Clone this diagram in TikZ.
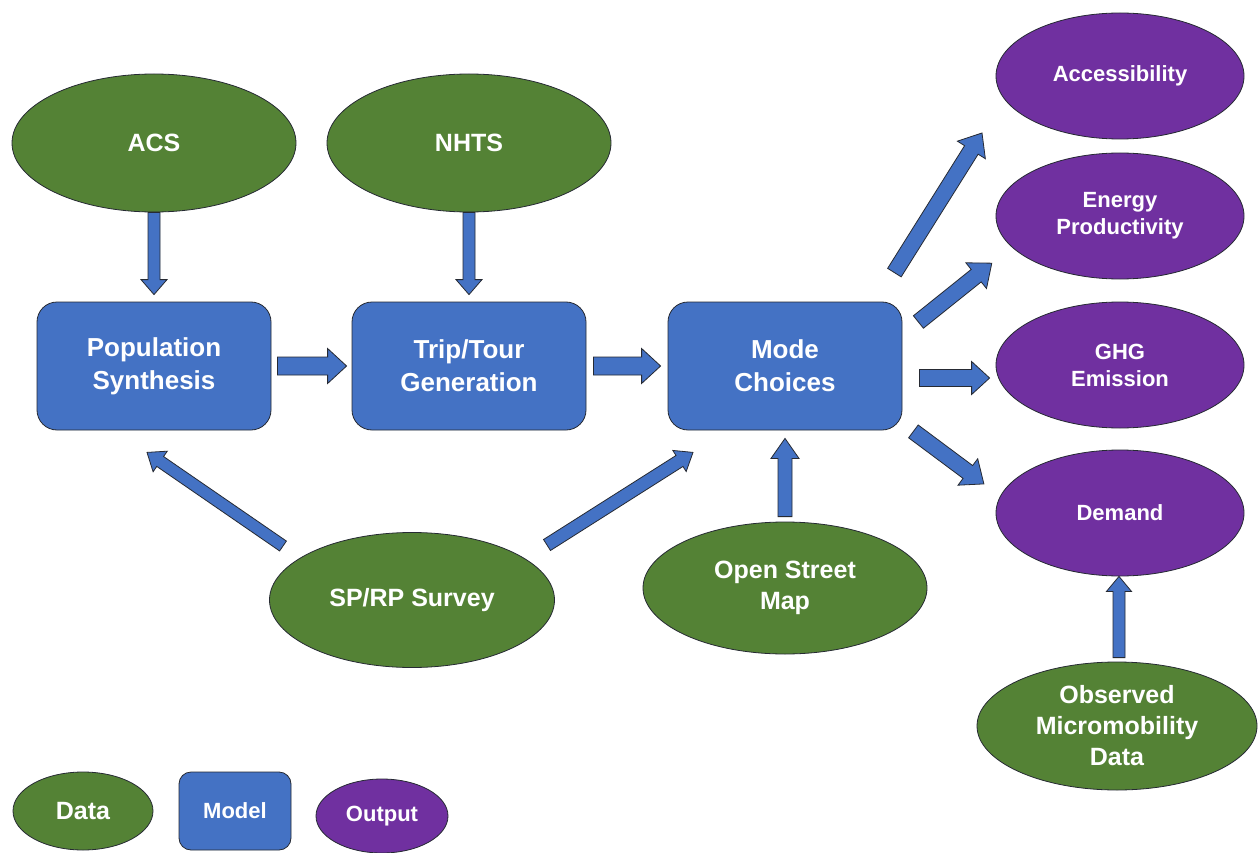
\documentclass[tikz,border=0pt]{standalone}
\usepackage{fontspec}
\setmainfont{Liberation Sans}
\usepackage{tikz}
\usetikzlibrary{shapes.geometric, calc}
\definecolor{datagreen}{HTML}{548235}
\definecolor{modelblue}{HTML}{4472C4}
\definecolor{outpurple}{HTML}{7030A0}
\definecolor{edge}{HTML}{262A33}
\tikzset{
    data/.style={ellipse, draw=edge, fill=datagreen, line width=0.8pt, inner sep=0pt, text=white, align=center,
        minimum width=284pt, minimum height=138pt, font=\bfseries\fontsize{25}{31}\selectfont}, % 数据的样式
    model/.style={rectangle, rounded corners=20pt, draw=edge, fill=modelblue, line width=0.8pt, inner sep=0pt, text=white, align=center,
        minimum width=234pt, minimum height=128pt, font=\bfseries\fontsize{26}{33}\selectfont}, % 模型的样式
    output/.style={ellipse, draw=edge, fill=outpurple, line width=0.8pt, inner sep=0pt, text=white, align=center,
        minimum width=248pt, minimum height=126pt, font=\bfseries\fontsize{22}{27}\selectfont}, % 输出的样式
    ba frame/.style={shift={(\p1)}, rotate=\n1},
    barrow/.style n args={3}{draw=edge, fill=modelblue, line width=0.8pt, to path={
        let \p1=(\tikztostart), \p2=(\tikztotarget),
            \n1={atan2(\y2-\y1,\x2-\x1)}, \n2={veclen(\x2-\x1,\y2-\y1)},
            \n3={\n2-#3pt}, \n4={#1pt/2}, \n5={#2pt/2} in
        ([ba frame]0pt,\n4) -- ([ba frame]\n3,\n4) -- ([ba frame]\n3,\n5) -- ([ba frame]\n2,0pt)
        -- ([ba frame]\n3,-\n5) -- ([ba frame]\n3,-\n4) -- ([ba frame]0pt,-\n4) -- cycle}} % 块状箭头
}

\begin{document}
\begin{tikzpicture}[x=1pt, y=-1pt]
    \def\W{1258} \def\H{853}
    \useasboundingbox[fill=white] (0,0) rectangle (\W,\H);

    \node[data] (acs) at (154,143) {ACS};
    \node[data] (nhts) at (469,143) {NHTS};
    \node[model] (pop) at (154,366) {Population\\Synthesis};
    \node[model] (trip) at (469,366) {Trip/Tour\\Generation};
    \node[model] (mode) at (785,366) {Mode\\Choices};
    \node[data, minimum width=285pt, minimum height=135pt] (sprp) at (412,600) {SP/RP Survey};
    \node[data, minimum height=132pt] (osm) at (785,588) {Open Street\\Map};

    \node[output] (acc) at (1120,76) {Accessibility};
    \node[output] (ener) at (1120,216) {Energy\\Productivity};
    \node[output] (ghg) at (1120,365) {GHG\\Emission};
    \node[output] (dem) at (1120,513) {Demand};
    \node[data, minimum width=280pt, minimum height=128pt] (obs) at (1117,726) {Observed\\Micromobility\\Data};

    \draw[barrow={12}{26}{15}] (acs.south) to ([yshift=7pt]pop.north);
    \draw[barrow={12}{26}{15}] (nhts.south) to ([yshift=7pt]trip.north);
    \draw[barrow={18}{35}{19}] ([xshift=6pt]pop.east) to ([xshift=-5pt]trip.west);
    \draw[barrow={18}{35}{19}] ([xshift=7pt]trip.east) to ([xshift=-7pt]mode.west);
    \draw[barrow={12}{25}{16}] ([shift={(-129,-54)}]sprp.center) to ([shift={(-7,22)}]pop.south);
    \draw[barrow={13}{25}{16}] ([shift={(135,-55)}]sprp.center) to ([shift={(-92,22)}]mode.south);
    \draw[barrow={14}{28}{20}] ([yshift=5pt]osm.north) to ([yshift=-8pt]mode.south);
    \draw[barrow={16}{33}{20}] ([shift={(-8,-29)}]mode.north east) to ([shift={(-138,57)}]acc.center);
    \draw[barrow={16}{33}{20}] ([shift={(16,-44)}]mode.east) to ([shift={(-128,47)}]ener.center);
    \draw[barrow={17}{33}{18}] ([shift={(17,12)}]mode.east) to ([shift={(-6,13)}]ghg.west);
    \draw[barrow={16}{33}{20}] ([shift={(11,1)}]mode.south east) to ([shift={(-136,-29)}]dem.center);
    \draw[barrow={12}{25}{15}] ([shift={(2,-4)}]obs.north) to ([shift={(-1,0)}]dem.south);

    \node[data, minimum width=140pt, minimum height=78pt] (leg data) at (83,811) {Data};
    \node[model, rounded corners=12pt, minimum width=112pt, minimum height=78pt, font=\bfseries\fontsize{22}{27}\selectfont] (leg model) at (235,811) {Model};
    \node[output, minimum width=132pt, minimum height=74pt] (leg out) at (382,816) {Output};
\end{tikzpicture}
\end{document}
